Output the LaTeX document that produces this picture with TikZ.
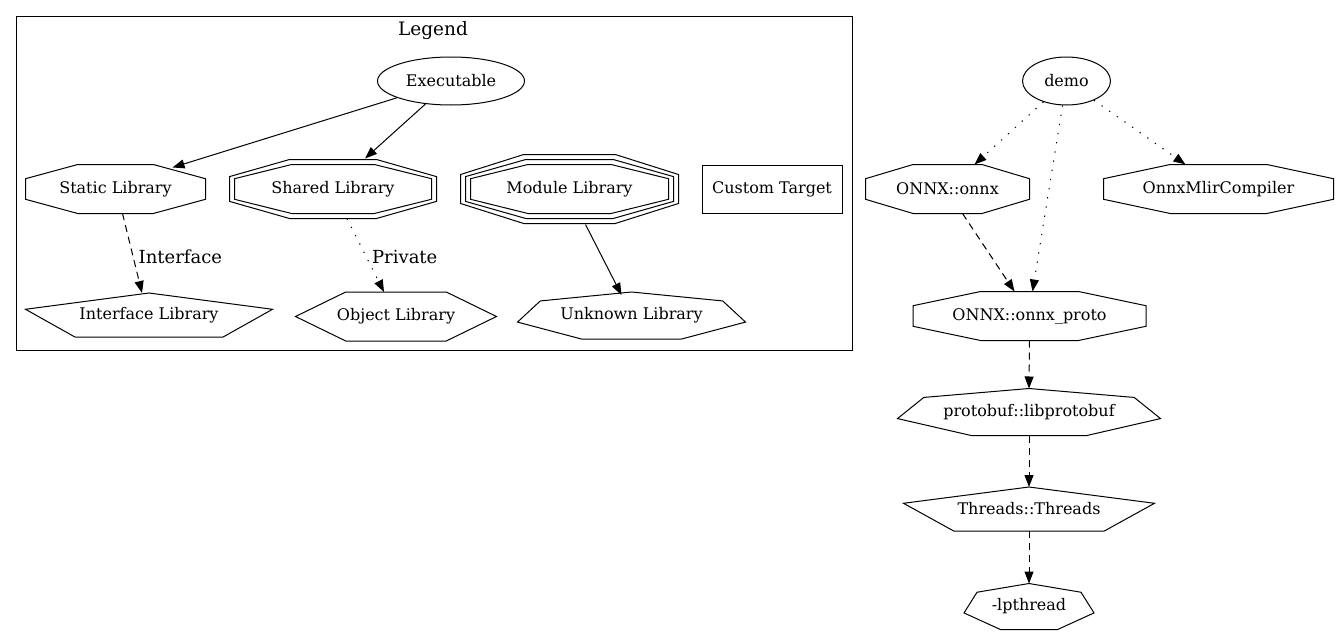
\documentclass[tikz,border=0pt]{standalone}
\usepackage{fontspec}
\setmainfont{DejaVu Serif}
\usetikzlibrary{arrows.meta,shapes.geometric,calc}

% outlines drawn round a target node, #2 = grow
\newcommand{\octpath}[2]{\draw let \p1=([shift={(-#2,-#2)}]#1.north west), \p2=([shift={(#2,#2)}]#1.south east) in
  ({\x1+0.29*(\x2-\x1)},\y1) -- ({\x1+0.71*(\x2-\x1)},\y1) -- (\x2,{\y1+0.29*(\y2-\y1)}) -- (\x2,{\y1+0.71*(\y2-\y1)})
  -- ({\x1+0.71*(\x2-\x1)},\y2) -- ({\x1+0.29*(\x2-\x1)},\y2) -- (\x1,{\y1+0.71*(\y2-\y1)}) -- (\x1,{\y1+0.29*(\y2-\y1)}) -- cycle;}
\newcommand{\pentpath}[2]{\draw let \p1=([shift={(-#2,-#2)}]#1.north west), \p2=([shift={(#2,#2)}]#1.south east) in
  ({\x1+0.5*(\x2-\x1)},\y1) -- (\x2,{\y1+0.37*(\y2-\y1)}) -- ({\x1+0.8*(\x2-\x1)},\y2) -- ({\x1+0.2*(\x2-\x1)},\y2) -- (\x1,{\y1+0.37*(\y2-\y1)}) -- cycle;}
\newcommand{\hexpath}[2]{\draw let \p1=([shift={(-#2,-#2)}]#1.north west), \p2=([shift={(#2,#2)}]#1.south east) in
  ({\x1+0.25*(\x2-\x1)},\y1) -- ({\x1+0.75*(\x2-\x1)},\y1) -- (\x2,{\y1+0.5*(\y2-\y1)}) -- ({\x1+0.75*(\x2-\x1)},\y2) -- ({\x1+0.25*(\x2-\x1)},\y2) -- (\x1,{\y1+0.5*(\y2-\y1)}) -- cycle;}
\newcommand{\septpath}[2]{\draw let \p1=([shift={(-#2,-#2)}]#1.north west), \p2=([shift={(#2,#2)}]#1.south east) in
  ({\x1+0.5*(\x2-\x1)},\y1) -- ({\x1+0.9*(\x2-\x1)},{\y1+0.19*(\y2-\y1)}) -- (\x2,{\y1+0.64*(\y2-\y1)}) -- ({\x1+0.72*(\x2-\x1)},\y2)
  -- ({\x1+0.28*(\x2-\x1)},\y2) -- (\x1,{\y1+0.64*(\y2-\y1)}) -- ({\x1+0.1*(\x2-\x1)},{\y1+0.19*(\y2-\y1)}) -- cycle;}

\begin{document}
\begin{tikzpicture}[x=1pt, y=-1pt, line width=1pt, >={Triangle[length=12pt,width=9pt]},
  tgt/.style={rectangle, inner sep=0pt, minimum height=48pt},
  exe/.style={ellipse, draw, inner sep=0pt, minimum height=48pt},
  lbl/.style={font=\fontsize{18}{20}\selectfont, anchor=west, inner xsep=5pt},
  dep/.style={->, dash pattern=on 7pt off 5pt},
  dotdep/.style={->, dash pattern=on 1.3pt off 8pt}]
\useasboundingbox (0,0) rectangle (1339,637);
\draw (16,16) rectangle (852,350);
\begin{scope}[every node/.style={font=\fontsize{16}{18}\selectfont}]
\node[font=\fontsize{18.5}{20}\selectfont] (legend) at (433,31) {Legend};
\node[exe, minimum width=147pt] (exe) at (451,81) {Executable};
\node[tgt, minimum width=179pt] (static) at (115.5,189) {Static Library};
\node[tgt, minimum width=196pt] (shared) at (333,189) {Shared Library};
\node[tgt, minimum width=197pt] (module) at (569.5,189) {Module Library};
\node[tgt, draw, minimum width=140pt] (custom) at (772,189) {Custom Target};
\node[tgt, minimum width=246pt, minimum height=43pt] (iface) at (149,315) {Interface Library};
\node[tgt, minimum width=200pt] (object) at (396,316.5) {Object Library};
\node[tgt, minimum width=227pt, minimum height=46pt] (unknown) at (631.5,315.5) {Unknown Library};
%right part
\node[exe, minimum width=88pt] (demo) at (1066.5,81) {demo};
\node[tgt, minimum width=163pt] (onnx) at (947.5,189) {ONNX::onnx};
\node[tgt, minimum width=229pt] (mlir) at (1218.5,189) {OnnxMlirCompiler};
\node[tgt, minimum width=232pt] (proto) at (1029.5,316) {ONNX::onnx\_proto};
\node[tgt, minimum width=262pt, minimum height=46pt] (protobuf) at (1029,412) {protobuf::libprotobuf};
\node[tgt, minimum width=250pt, minimum height=43pt] (threads) at (1029,509) {Threads::Threads};
\node[tgt, minimum width=129pt, minimum height=45pt] (lpthread) at (1029,606.5) {-lpthread};
\end{scope}
\begin{scope}
\foreach \tg in {static,onnx,mlir,proto} {\octpath{\tg}{0}}
\foreach \g in {0,5} {\octpath{shared}{\g}}
\foreach \g in {0,5,10} {\octpath{module}{\g}}
\foreach \tg in {iface,threads} {\pentpath{\tg}{0}}
\hexpath{object}{0}
\foreach \tg in {unknown,protobuf,lpthread} {\septpath{\tg}{0}}
\end{scope}
\begin{scope}
\draw (exe) edge[->] ([xshift=57,yshift=-3]static.north);
\draw (exe) edge[->] ([xshift=32,yshift=6]shared.north);
\draw ([xshift=7]static.south) edge[dep] node[lbl, pos=0.55]{Interface} ([xshift=-7]iface.north);
\draw ([xshift=14,yshift=-5]shared.south) edge[dotdep] node[lbl, pos=0.53]{Private} ([xshift=-12]object.north);
\draw ([xshift=16,yshift=-11]module.south) edge[->] ([xshift=-10,yshift=-3]unknown.north);
%\draw (demo) edge[dotdep] (onnx);
\draw (demo) edge[dotdep] ([xshift=27]onnx.north);
\draw (demo) edge[dotdep] ([xshift=3]proto.north);
\draw (demo) edge[dotdep] ([xshift=-33]mlir.north);
\draw ([xshift=15]onnx.south) edge[dep] ([xshift=-15]proto.north);
\draw (proto.south) edge[dep] (protobuf.north);
\draw (protobuf.south) edge[dep] (threads.north);
\draw (threads.south) edge[dep] (lpthread.north);
\end{scope}
\end{tikzpicture}
\end{document}
